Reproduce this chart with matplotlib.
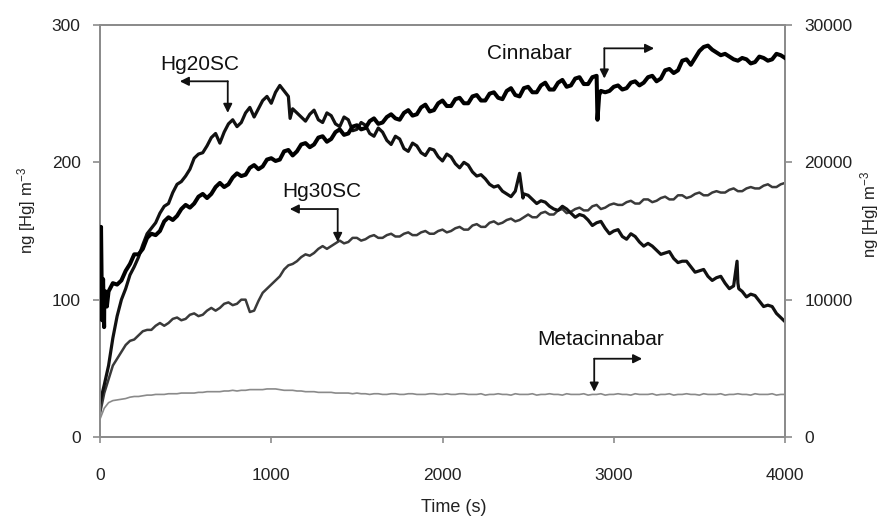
import numpy as np
import matplotlib
matplotlib.use("Agg")
import matplotlib.pyplot as plt

plt.rcParams['font.family'] = ['Liberation Sans', 'DejaVu Sans']
plt.rcParams['mathtext.fontset'] = 'custom'
plt.rcParams['mathtext.rm'] = 'Liberation Sans'
plt.rcParams['mathtext.default'] = 'regular'

# ---------------- data ----------------
time_s = np.arange(0, 4001, 50)      # main sampling grid, s
time_mid = np.arange(25, 4000, 50)   # intermediate samples, s

# left axis, ng [Hg] m-3
hg20sc = [25, 52, 88, 108, 124, 140, 152, 163, 170, 184, 190, 203, 207, 218, 214, 228, 226, 236, 233, 245,
          243, 256, 248, 236, 230, 238, 229, 234, 226, 231, 224, 227, 219, 222, 213, 217, 208, 212, 205, 209,
          201, 204, 196, 198, 190, 188, 182, 179, 175, 192, 176, 170, 171, 166, 168, 163, 162, 158, 156, 152,
          150, 146, 148, 142, 141, 136, 134, 130, 128, 124, 121, 117, 116, 112, 110, 106, 104, 99, 96, 90, 84]
hg20sc_mid = [38, 72, 100, 118, 131, 148, 156, 168, 178, 186, 195, 206, 212, 221, 222, 231, 229, 240, 239, 248,
              251, 252, 239, 233, 235, 231, 236, 228, 233, 223, 229, 221, 225, 216, 219, 210, 214, 207, 210, 204,
              206, 199, 200, 193, 191, 184, 183, 177, 179, 177, 173, 172, 168, 165, 166, 160, 161, 154, 157, 148,
              151, 144, 146, 139, 139, 133, 135, 127, 128, 120, 122, 114, 117, 108, 112, 102, 103, 95, 95, 87]
hg20sc_extra_t = [1110, 2470, 3720, 3730]
hg20sc_extra_v = [232, 174, 128, 108]

hg30sc = [17, 42, 57, 67, 71, 77, 78, 83, 83, 87, 86, 90, 89, 94, 94, 98, 97, 100, 92, 105,
          111, 117, 125, 128, 133, 134, 139, 139, 143, 142, 145, 144, 147, 145, 148, 146, 149, 147, 150, 148,
          151, 150, 153, 151, 155, 153, 157, 156, 159, 158, 162, 160, 164, 162, 166, 164, 167, 165, 169, 167,
          170, 169, 172, 170, 173, 172, 175, 173, 176, 175, 178, 176, 179, 178, 181, 179, 182, 181, 184, 182, 185]
hg30sc_mid = [32, 52, 62, 70, 74, 78, 81, 81, 86, 85, 89, 88, 92, 92, 97, 96, 100, 91, 99, 108,
              114, 122, 126, 131, 132, 137, 137, 141, 141, 145, 143, 146, 145, 147, 146, 148, 147, 149, 148, 150,
              149, 152, 151, 154, 153, 156, 155, 158, 157, 160, 160, 163, 162, 165, 163, 166, 165, 168, 166, 169,
              169, 171, 170, 173, 171, 174, 173, 176, 174, 177, 176, 178, 178, 180, 179, 181, 181, 183, 182, 184]

# right axis, ng [Hg] m-3
cinnabar = [10000, 10600, 11100, 12100, 13300, 13700, 14800, 15000, 16000, 16100, 16900, 17000, 17700, 17700,
            18500, 18400, 19200, 19100, 19800, 19700, 20300, 20200, 20900, 20800, 21400, 21300, 21900, 21700,
            22400, 22100, 22700, 22500, 23200, 22900, 23500, 23100, 23800, 23500, 24200, 23800, 24500, 24100,
            24700, 24300, 24900, 24500, 25100, 24600, 25400, 24800, 25500, 25100, 25800, 25300, 26000, 25600,
            26200, 25700, 26300, 25100, 25500, 25300, 25800, 25600, 26200, 25900, 26700, 26500, 27400, 27100,
            28100, 28500, 28000, 27900, 27500, 27600, 27200, 27700, 27400, 27900, 27600]
cinnabar_mid = [10000, 11200, 11400, 12600, 13300, 14500, 14700, 15700, 15800, 16600, 16700, 17500, 17400, 18200,
                18200, 18900, 19000, 19600, 19500, 20200, 20100, 20800, 20500, 21300, 21100, 21800, 21500, 22200,
                22000, 22600, 22400, 23000, 22800, 23300, 23200, 23600, 23400, 24000, 23700, 24300, 24100, 24600,
                24300, 24800, 24500, 25000, 24700, 25200, 24900, 25400, 25100, 25600, 25300, 25800, 25500, 26100,
                25700, 26200, 25200, 25200, 25600, 25400, 25900, 25800, 26300, 26100, 26800, 26700, 27500, 27600,
                28400, 28200, 27800, 27700, 27400, 27500, 27300, 27600, 27500, 27800]
cinnabar_extra_t = [6, 12, 18, 24, 32, 40, 2905, 2915]
cinnabar_extra_v = [15300, 8500, 11500, 8000, 10600, 9500, 23100, 24900]

metacinnabar = [1300, 2500, 2700, 2800, 2950, 3000, 3050, 3100, 3150, 3150, 3200, 3200, 3250, 3300, 3300,
                3350, 3350, 3400, 3450, 3450, 3500, 3450, 3400, 3350, 3300, 3300, 3250, 3250, 3200, 3200,
                3200, 3150, 3150, 3100, 3150, 3100, 3150, 3100, 3100, 3150, 3100, 3100, 3150, 3100, 3100,
                3050, 3100, 3100, 3050, 3100, 3100, 3050, 3100, 3100, 3050, 3100, 3100, 3050, 3100, 3050,
                3100, 3100, 3050, 3100, 3100, 3050, 3100, 3050, 3100, 3100, 3050, 3100, 3100, 3050, 3100,
                3100, 3050, 3100, 3100, 3050, 3100]
metacinnabar_mid = [2100, 2650, 2750, 2900, 2950, 3050, 3100, 3100, 3150, 3200, 3200, 3250, 3300, 3300, 3350,
                    3400, 3400, 3450, 3450, 3500, 3500, 3400, 3400, 3350, 3300, 3250, 3250, 3200, 3200, 3150,
                    3150, 3100, 3150, 3100, 3150, 3100, 3150, 3100, 3150, 3100, 3150, 3100, 3150, 3100, 3150,
                    3100, 3150, 3100, 3150, 3100, 3150, 3100, 3150, 3100, 3150, 3100, 3150, 3100, 3150, 3100,
                    3150, 3100, 3150, 3100, 3150, 3100, 3150, 3100, 3150, 3100, 3150, 3100, 3150, 3100, 3150,
                    3100, 3150, 3100, 3150, 3100]

x_ticks = [0, 1000, 2000, 3000, 4000]
left_ticks = [0, 100, 200, 300]
right_ticks = [0, 10000, 20000, 30000]


def merge(*pairs):
    tt = np.concatenate([np.asarray(t, float) for t, _ in pairs])
    vv = np.concatenate([np.asarray(v, float) for _, v in pairs])
    o = np.argsort(tt, kind='stable')
    return tt[o], vv[o]


# ---------------- figure ----------------
fig = plt.figure(figsize=(8.83, 5.20), dpi=100)
ax = fig.add_axes([100 / 883, 1 - 437 / 520, 685 / 883, 412 / 520])
ax2 = ax.twinx()

spine_c = '#8c8c8c'
t30, v30 = merge((time_s, hg30sc), (time_mid, hg30sc_mid))
t20, v20 = merge((time_s, hg20sc), (time_mid, hg20sc_mid), (hg20sc_extra_t, hg20sc_extra_v))
ax.plot(t30, v30, color='#3a3a3a', lw=1.8, zorder=2)
ax.plot(t20, v20, color='#111111', lw=2.3, zorder=3)

tm, vm = merge((time_s, metacinnabar), (time_mid, metacinnabar_mid))
tc, vc = merge((time_s, cinnabar), (time_mid, cinnabar_mid), (cinnabar_extra_t, cinnabar_extra_v))
ax2.plot(tm, vm, color='#8a8a8a', lw=1.2, zorder=2)
ax2.plot(tc, vc, color='#000000', lw=2.9, zorder=3)

ax.set_xlim(0, 4000)
ax.set_ylim(0, 300)
ax2.set_ylim(0, 30000)
ax.set_xticks(x_ticks)
ax.set_yticks(left_ticks)
ax2.set_yticks(right_ticks)

for a in (ax, ax2):
    for s in a.spines.values():
        s.set_color(spine_c)
        s.set_linewidth(1.4)
ax.tick_params(axis='y', direction='out', length=5, width=1.2, color=spine_c, pad=9, labelsize=12.5, labelcolor='#222222')
ax.tick_params(axis='x', direction='out', length=4, width=1.2, color=spine_c, pad=18, labelsize=12.5, labelcolor='#222222')
ax2.tick_params(axis='y', direction='out', length=5, width=1.2, color=spine_c, pad=9, labelsize=12.5, labelcolor='#222222')

fig.text(454 / 883, 1 - 508 / 520, 'Time (s)', ha='center', va='center', fontsize=13, color='#222222')
fig.text(27 / 883, 1 - 211 / 520, 'ng [Hg] m$^{-3}$', rotation=90, ha='center', va='center', fontsize=12, color='#222222')
fig.text(870 / 883, 1 - 215 / 520, 'ng [Hg] m$^{-3}$', rotation=90, ha='center', va='center', fontsize=12, color='#222222')

# ---------------- annotations (left-axis coordinates) ----------------
arr = dict(arrowstyle='-|>', color='#111111', lw=1.3, shrinkA=0, shrinkB=0, mutation_scale=13)


def bent(corner, tip_down, tip_side):
    ax.annotate('', xy=tip_down, xytext=corner, arrowprops=arr, zorder=5)
    ax.annotate('', xy=tip_side, xytext=corner, arrowprops=arr, zorder=5)


ax.text(583, 271, 'Hg20SC', ha='center', va='center', fontsize=15, color='#111111')
bent((746, 259), (746, 236), (466, 259))

ax.text(1294, 179, 'Hg30SC', ha='center', va='center', fontsize=15, color='#111111')
bent((1388, 166), (1388, 142), (1108, 166))

ax.text(2507, 279, 'Cinnabar', ha='center', va='center', fontsize=15, color='#111111')
bent((2945, 283), (2945, 261), (3236, 283))

ax.text(2921, 71, 'Metacinnabar', ha='center', va='center', fontsize=15, color='#111111')
bent((2886, 57), (2886, 33), (3166, 57))

fig.savefig('out.png', dpi=100)
